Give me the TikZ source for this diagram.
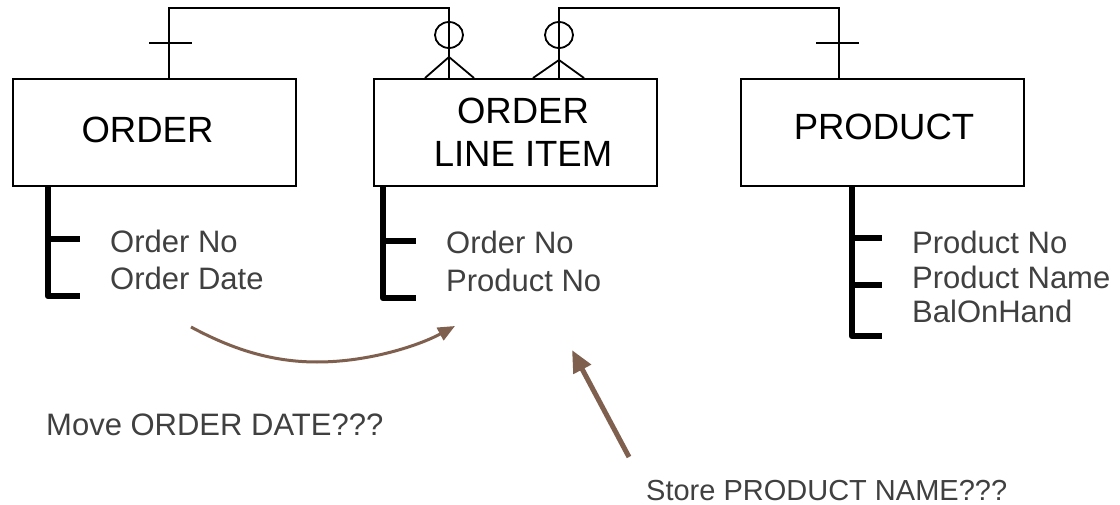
\documentclass[tikz,border=0pt]{standalone}
\usepackage{fontspec}
\setmainfont{Liberation Sans}
\usetikzlibrary{arrows.meta}
\definecolor{attrgray}{RGB}{64,64,64}
\definecolor{hintbrown}{RGB}{127,95,78}
\begin{document}
\begin{tikzpicture}[x=1pt,y=-1pt,
  entity/.style={draw, line width=2pt, minimum width=283pt, minimum height=107pt,
                 inner sep=0pt, anchor=north west},
  title/.style={font=\fontsize{36.5}{43}\selectfont, inner sep=0pt, align=center},
  attr/.style={font=\fontsize{31}{36}\selectfont, text=attrgray, inner sep=0pt, anchor=base west},
  rel/.style={line width=1.8pt},
  bracket/.style={line width=6.5pt, line join=round}]

\useasboundingbox (0,0) rectangle (1120,505);
\fill[white] (0,0) rectangle (1120,505);

% entities
\node[entity] (order)   at (12,78)  {};
\node[entity] (oli)     at (373,78) {};
\node[entity] (product) at (740,78) {};
\node[title, anchor=base] (ordert) at (147.5,143) {ORDER};
\node[title, anchor=center] (olit) at (523,132.5) {ORDER\\LINE ITEM};
\node[title, anchor=base] (productt) at (884,140) {PRODUCT};

% relationship end points
\coordinate (r1a) at ([xshift=157pt]order.north west);
\coordinate (r1b) at ([xshift=76pt]oli.north west);
\coordinate (r2a) at ([xshift=99pt]product.north west);
\coordinate (r2b) at ([xshift=186pt]oli.north west);

% ORDER -- ORDER LINE ITEM: one and only one / zero or many
\draw[rel] (r1a) -- ++(0,-70) -| (r1b);
\draw[rel] ([shift={(-20,-35)}]r1a) -- ++(43,0);
\draw[rel] ([yshift=43pt]r1b) ellipse [x radius=14, y radius=13];
\draw[rel] ([xshift=-24pt]r1b) -- ([yshift=21pt]r1b) -- ([xshift=25pt]r1b);

% PRODUCT -- ORDER LINE ITEM: one and only one / zero or many
\draw[rel] (r2a) -- ++(0,-70) -| (r2b);
\draw[rel] ([shift={(-23,-35)}]r2a) -- ++(43,0);
\draw[rel] ([yshift=43pt]r2b) ellipse [x radius=14, y radius=13];
\draw[rel] ([xshift=-26pt]r2b) -- ([yshift=18pt]r2b) -- ([xshift=25pt]r2b);

% attribute brackets
\draw[bracket] ([xshift=36pt]order.south west) |- ++(32,109);
\draw[bracket] (48,239) -- (80,239);
\draw[bracket] ([xshift=10pt]oli.south west) |- ++(33,111);
\draw[bracket] (383,241) -- (416,241);
\draw[bracket] ([xshift=112pt]product.south west) |- ++(30,149);
\draw[bracket] (852,238) -- (882,238);
\draw[bracket] (852,285) -- (882,285);

% attributes
\node[attr] (oa1) at (110,253) {Order No};
\node[attr] (oa2) at (110,290) {Order Date};
\node[attr] (la1) at (446,254) {Order No};
\node[attr] (la2) at (446,292) {Product No};
\node[attr] (pa1) at (912,254) {Product No};
\node[attr] (pa2) at (912,288.5) {Product Name};
\node[attr] (pa3) at (912,323) {BalOnHand};

% notes
\node[attr] (movenote) at (46,435) {Move ORDER DATE???};
\node[attr, font=\fontsize{29}{34}\selectfont] (storenote) at (646,500) {Store PRODUCT NAME???};

\coordinate (mvfrom) at (191,327);
\coordinate (mvto)   at (455,326);
\coordinate (stfrom) at (629,457);
\coordinate (stto)   at (572,350);

\draw[draw=hintbrown, line width=3pt, -{Triangle[length=17pt,width=14pt,fill=hintbrown]}]
  (mvfrom) .. controls (230,348) and (270,362) .. (317,362)
           .. controls (370,362) and (420,345) .. (mvto);
\draw[draw=hintbrown, line width=5pt, -{Triangle[length=22pt,width=19pt,fill=hintbrown]}]
  (stfrom) -- (stto);
\end{tikzpicture}
\end{document}
